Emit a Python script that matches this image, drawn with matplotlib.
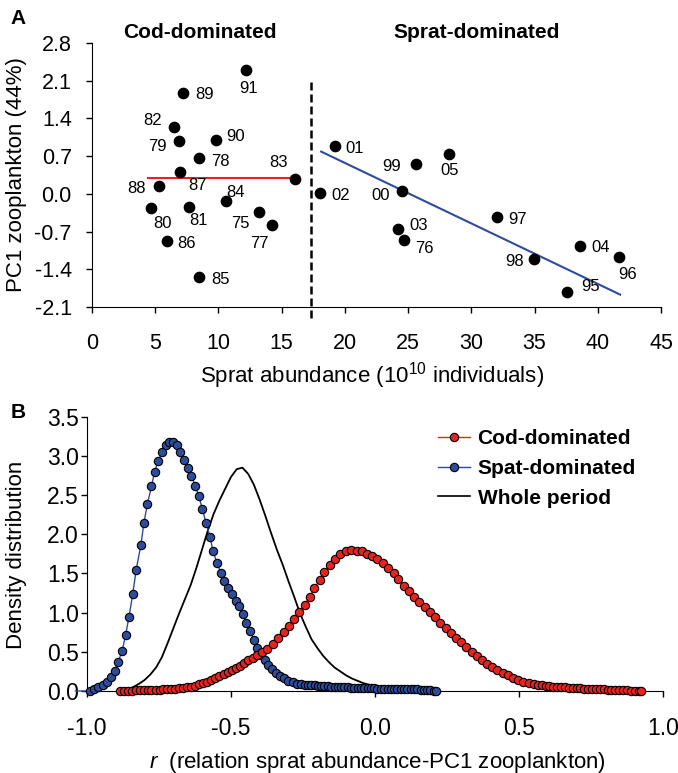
import matplotlib
matplotlib.use("Agg")
import matplotlib.pyplot as plt
from matplotlib.lines import Line2D

plt.rcParams['font.family'] = ['Liberation Sans', 'DejaVu Sans']
plt.rcParams['mathtext.fontset'] = 'custom'
plt.rcParams['mathtext.rm'] = 'Liberation Sans'
plt.rcParams['mathtext.it'] = 'Liberation Sans:italic'
plt.rcParams['axes.unicode_minus'] = False

# ---- panel A data ----
cod_years = ['91', '89', '82', '79', '90', '78', '87', '83', '88', '80', '81', '84', '75', '77', '86', '85']
cod_x = [12.16, 7.22, 6.51, 6.88, 9.78, 8.47, 6.96, 16.06, 5.30, 4.67, 7.65, 10.58, 13.24, 14.24, 5.91, 8.49]
cod_y = [2.30, 1.88, 1.25, 0.98, 1.00, 0.66, 0.40, 0.28, 0.14, -0.27, -0.25, -0.14, -0.33, -0.58, -0.87, -1.55]

sprat_years = ['02', '01', '99', '05', '00', '03', '76', '97', '98', '04', '96', '95']
sprat_x = [18.04, 19.22, 25.63, 28.22, 24.55, 24.21, 24.66, 32.01, 34.99, 38.60, 41.70, 37.55]
sprat_y = [0.01, 0.88, 0.56, 0.74, 0.06, -0.66, -0.85, -0.43, -1.21, -0.96, -1.17, -1.82]

cod_fit_x = [4.46, 16.06]
cod_fit_y = [0.30, 0.30]
sprat_fit_x = [18.12, 41.77]
sprat_fit_y = [0.785, -1.87]
shift_x = 17.3

# ---- panel B data ----
spat_r = [-1.04, -0.990, -0.975, -0.961, -0.945, -0.932, -0.918, -0.904, -0.892, -0.878,
          -0.866, -0.854, -0.841, -0.829, -0.813, -0.802, -0.790, -0.776, -0.765, -0.752,
          -0.739, -0.726, -0.716, -0.702, -0.688, -0.676, -0.663, -0.650, -0.637, -0.624,
          -0.612, -0.599, -0.587, -0.572, -0.562, -0.548, -0.535, -0.524, -0.510, -0.498,
          -0.484, -0.471, -0.459, -0.446, -0.433, -0.420, -0.408, -0.395, -0.382, -0.370,
          -0.357, -0.343, -0.329, -0.315, -0.300, -0.286, -0.271, -0.256,
          -0.244, -0.232, -0.221, -0.209, -0.198, -0.186, -0.175, -0.163, -0.152, -0.140,
          -0.129, -0.117, -0.106, -0.094, -0.083, -0.071, -0.060, -0.048, -0.037, -0.025,
          -0.014, -0.002, 0.009, 0.021, 0.032, 0.044, 0.055, 0.067, 0.078, 0.090,
          0.101, 0.113, 0.124, 0.136, 0.147, 0.159, 0.170, 0.182, 0.193, 0.205, 0.213]
spat_d = [0.0, 0.00, 0.02, 0.05, 0.08, 0.12, 0.18, 0.26, 0.37, 0.51,
          0.71, 0.95, 1.24, 1.55, 1.86, 2.15, 2.39, 2.61, 2.80, 2.94,
          3.05, 3.14, 3.18, 3.18, 3.14, 3.05, 2.95, 2.85, 2.74, 2.62,
          2.49, 2.32, 2.15, 1.96, 1.78, 1.63, 1.51, 1.40, 1.32, 1.24,
          1.15, 1.08, 0.98, 0.87, 0.76, 0.65, 0.55, 0.46, 0.40, 0.33,
          0.28, 0.23, 0.19, 0.16, 0.13, 0.11, 0.09, 0.085,
          0.080, 0.077, 0.074, 0.071, 0.068, 0.065, 0.062, 0.060, 0.057, 0.055,
          0.053, 0.050, 0.048, 0.046, 0.044, 0.042, 0.040, 0.038, 0.036, 0.034,
          0.033, 0.032, 0.031, 0.030, 0.030, 0.030, 0.030, 0.031, 0.031, 0.031,
          0.030, 0.029, 0.027, 0.025, 0.022, 0.019, 0.016, 0.012, 0.009, 0.005, 0.003]

cod_r = [-0.885, -0.871, -0.858, -0.844, -0.830, -0.817, -0.803, -0.789, -0.776, -0.762,
         -0.748, -0.735, -0.721, -0.707, -0.694, -0.680, -0.666, -0.653, -0.640, -0.626,
         -0.612, -0.598, -0.584, -0.569, -0.554, -0.540, -0.525, -0.511, -0.496, -0.482,
         -0.468, -0.454, -0.440, -0.425, -0.410, -0.392, -0.373, -0.354, -0.336, -0.317,
         -0.299, -0.281, -0.264, -0.244, -0.227, -0.210, -0.192, -0.175, -0.155, -0.138,
         -0.120, -0.100, -0.082, -0.062, -0.045, -0.027, -0.009, 0.009, 0.028, 0.047,
         0.065, 0.082, 0.102, 0.120, 0.137, 0.155, 0.173, 0.191, 0.209, 0.227,
         0.246, 0.264, 0.282, 0.300, 0.318, 0.336, 0.354, 0.372, 0.390, 0.408,
         0.426, 0.444, 0.462, 0.480, 0.498, 0.516, 0.534, 0.552, 0.566, 0.579,
         0.593, 0.606, 0.620, 0.633, 0.647, 0.660, 0.674, 0.687, 0.701, 0.714,
         0.728, 0.741, 0.755, 0.768, 0.782, 0.795, 0.809, 0.822, 0.836, 0.849,
         0.863, 0.876, 0.890, 0.903, 0.917, 0.926]
cod_d = [0.000, 0.000, 0.003, 0.005, 0.007, 0.009, 0.011, 0.013, 0.015, 0.017,
         0.019, 0.021, 0.023, 0.026, 0.029, 0.033, 0.038, 0.045, 0.055, 0.07,
         0.085, 0.10, 0.12, 0.14, 0.16, 0.19, 0.22, 0.245, 0.27, 0.295,
         0.32, 0.355, 0.39, 0.425, 0.46, 0.50, 0.54, 0.60, 0.67, 0.75,
         0.83, 0.92, 1.01, 1.10, 1.20, 1.31, 1.42, 1.52, 1.61, 1.69,
         1.75, 1.78, 1.80, 1.79, 1.78, 1.75, 1.72, 1.68, 1.63, 1.57,
         1.50, 1.43, 1.34, 1.27, 1.20, 1.13, 1.07, 1.01, 0.94, 0.87,
         0.80, 0.74, 0.68, 0.62, 0.56, 0.50, 0.45, 0.40, 0.35, 0.31,
         0.27, 0.235, 0.20, 0.165, 0.14, 0.12, 0.10, 0.088, 0.08, 0.073,
         0.067, 0.062, 0.057, 0.053, 0.049, 0.045, 0.042, 0.039, 0.036, 0.033,
         0.031, 0.028, 0.026, 0.024, 0.022, 0.020, 0.018, 0.016, 0.014, 0.012,
         0.010, 0.008, 0.006, 0.004, 0.002, 0.000]

whole_r = [-0.88, -0.86, -0.84, -0.82, -0.80, -0.78, -0.76, -0.74, -0.72, -0.70,
           -0.68, -0.66, -0.64, -0.62, -0.60, -0.58, -0.56, -0.54, -0.52, -0.50,
           -0.48, -0.46, -0.44, -0.42, -0.40, -0.38, -0.36, -0.34, -0.32, -0.30,
           -0.28, -0.26, -0.24, -0.22, -0.20, -0.18, -0.16, -0.14, -0.12, -0.10,
           -0.08, -0.06, -0.04, -0.02, 0.00, 0.02, 0.04, 0.06, 0.08, 0.10,
           0.12, 0.14, 0.16, 0.18, 0.20, 0.22]
whole_d = [0.00, 0.02, 0.05, 0.09, 0.14, 0.21, 0.30, 0.43, 0.61, 0.80,
           0.99, 1.17, 1.35, 1.57, 1.81, 2.05, 2.26, 2.43, 2.58, 2.73,
           2.83, 2.85, 2.77, 2.63, 2.44, 2.23, 2.01, 1.80, 1.61, 1.40,
           1.20, 0.99, 0.82, 0.66, 0.55, 0.45, 0.37, 0.30, 0.25, 0.20,
           0.16, 0.13, 0.10, 0.08, 0.06, 0.05, 0.04, 0.03, 0.03, 0.02,
           0.02, 0.01, 0.01, 0.01, 0.00, 0.00]

cod_label_off = [(3, 19), (21, 2), (-22, -6), (-22, 5), (20, -3), (21, 3), (17, 13), (-17, -16),
                 (-23, 2), (11, 15), (10, 13), (10, -9), (-19, 12), (-13, 18), (20, 3), (21, 2)]
sprat_label_off = [(21, 2), (20, 2), (-24, 3), (1, 17), (-22, 5), (21, -4), (21, 9), (21, 2),
                   (-20, 2), (21, 2), (8, 18), (24, -5)]

red = '#E8231E'
blue = '#2E4C9C'
W, H = 678, 773

fig = plt.figure(figsize=(W / 100, H / 100), dpi=100)


def px_rect(left, top, right, bottom):
    return [left / W, 1 - bottom / H, (right - left) / W, (bottom - top) / H]


# ---------------- panel A ----------------
ax1 = fig.add_axes(px_rect(92, 43, 661, 307))
ax1.scatter(cod_x, cod_y, s=55, color='black', zorder=3)
ax1.scatter(sprat_x, sprat_y, s=55, color='black', zorder=3)
ax1.plot(cod_fit_x, cod_fit_y, color=red, lw=1.5, zorder=2)
ax1.plot(sprat_fit_x, sprat_fit_y, color=blue, lw=1.5, zorder=2)
ax1.plot([shift_x, shift_x], [2.08, -2.34], color='black', lw=1.8,
         linestyle=(0, (3.2, 1.6)), clip_on=False)

for yr, x, y, (dx, dy) in zip(cod_years + sprat_years, cod_x + sprat_x, cod_y + sprat_y,
                              cod_label_off + sprat_label_off):
    ax1.annotate(yr, (x, y), xytext=(dx, -dy), textcoords='offset pixels',
                 ha='center', va='center', fontsize=12)

ax1.set_xlim(0, 45)
ax1.set_ylim(-2.1, 2.8)
ax1.set_xticks(range(0, 50, 5))
yt = [-2.1, -1.4, -0.7, 0.0, 0.7, 1.4, 2.1, 2.8]
ax1.set_yticks(yt)
ax1.set_yticklabels(['%.1f' % v for v in yt])
ax1.spines['top'].set_visible(False)
ax1.spines['right'].set_visible(False)
ax1.tick_params(axis='y', labelsize=15.5, length=4.5, width=1, pad=10)
ax1.tick_params(axis='x', labelsize=15.5, length=4.5, width=1, pad=14)
ax1.set_ylabel('PC1 zooplankton (44%)', fontsize=16)
ax1.yaxis.set_label_coords(-0.132, 0.5)
ax1.yaxis.label.set_va('center')
ax1.set_xlabel('Sprat abundance (10$^{10}$ individuals)', fontsize=16)
ax1.xaxis.set_label_coords(0.492, -0.258)
ax1.xaxis.label.set_va('center')

fig.text(200 / W, 1 - 33 / H, 'Cod-dominated', fontsize=15, fontweight='bold', ha='center', va='center')
fig.text(477 / W, 1 - 33 / H, 'Sprat-dominated', fontsize=15, fontweight='bold', ha='center', va='center')
fig.text(18 / W, 1 - 18 / H, 'A', fontsize=15, fontweight='bold', ha='center', va='center')

# ---------------- panel B ----------------
ax2 = fig.add_axes(px_rect(87, 416.7, 662.7, 691))
ax2.plot(whole_r, whole_d, color='black', lw=1.3, zorder=2)
ax2.plot(spat_r, spat_d, color=blue, lw=1.0, marker='o', markersize=6,
         markerfacecolor=blue, markeredgecolor='black', markeredgewidth=0.8,
         markevery=list(range(1, len(spat_r))), clip_on=False, zorder=3)
ax2.plot(cod_r, cod_d, color=red, lw=1.0, marker='o', markersize=6,
         markerfacecolor=red, markeredgecolor='black', markeredgewidth=0.8,
         clip_on=False, zorder=4)

ax2.set_xlim(-1, 1)
ax2.set_ylim(0, 3.5)
xt = [-1.0, -0.5, 0.0, 0.5, 1.0]
ax2.set_xticks(xt)
ax2.set_xticklabels(['%.1f' % v for v in xt])
ytb = [0.0, 0.5, 1.0, 1.5, 2.0, 2.5, 3.0, 3.5]
ax2.set_yticks(ytb)
ax2.set_yticklabels(['%.1f' % v for v in ytb])
ax2.spines['top'].set_visible(False)
ax2.spines['right'].set_visible(False)
ax2.tick_params(axis='y', labelsize=16.5, length=4.5, width=1, pad=1.5)
ax2.tick_params(axis='x', labelsize=16.5, length=4.5, width=1, pad=14)
ax2.set_ylabel('Density distribution', fontsize=16)
ax2.yaxis.set_label_coords(-0.1216, 0.496)
ax2.yaxis.label.set_va('center')
ax2.set_xlabel('$\\mathit{r}$  (relation sprat abundance-PC1 zooplankton)', fontsize=16)
ax2.xaxis.set_label_coords(0.504, -0.259)
ax2.xaxis.label.set_va('center')

fig.text(18 / W, 1 - 413 / H, 'B', fontsize=15, fontweight='bold', ha='center', va='center')

handles = [
    Line2D([], [], color=red, lw=1.0, marker='o', markersize=6, markerfacecolor=red,
           markeredgecolor='black', markeredgewidth=0.8),
    Line2D([], [], color=blue, lw=1.0, marker='o', markersize=6, markerfacecolor=blue,
           markeredgecolor='black', markeredgewidth=0.8),
    Line2D([], [], color='black', lw=1.2),
]
ax2.legend(handles, ['Cod-dominated', 'Spat-dominated', 'Whole period'],
           loc='upper left', bbox_to_anchor=(438 / W, 1 - 429 / H),
           bbox_transform=fig.transFigure, frameon=False, borderpad=0,
           borderaxespad=0, handlelength=1.55, handletextpad=0.35,
           labelspacing=0.52, prop={'weight': 'bold', 'size': 15})

fig.savefig('out.png', dpi=100)
